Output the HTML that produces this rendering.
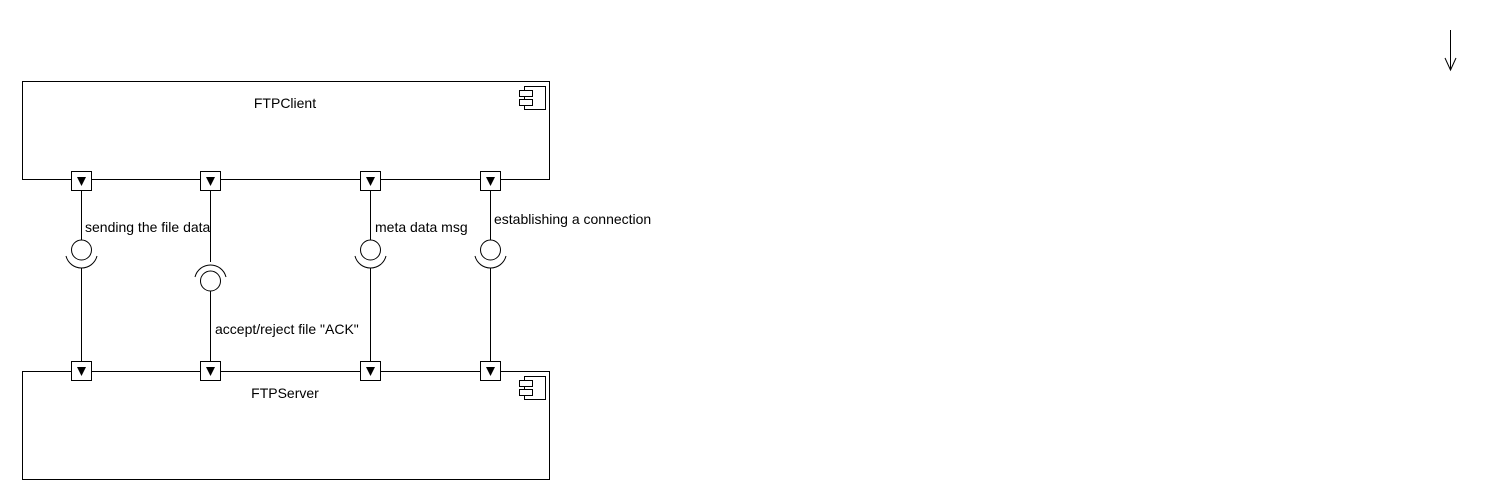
<!DOCTYPE html>
<html><head><meta charset="utf-8"><style>
html,body{margin:0;padding:0;background:#fff;width:1490px;height:500px;overflow:hidden}
text{font-family:"Liberation Sans",sans-serif;font-size:14px;fill:#000}
</style></head><body>
<svg width="1490" height="500" viewBox="0 0 1490 500" xmlns="http://www.w3.org/2000/svg">
<g fill="none" stroke="#000" stroke-width="1">
<rect x="22.5" y="81.5" width="527" height="98"/>
<rect x="22.5" y="371.5" width="527" height="108"/>
<rect x="524.5" y="86.5" width="21" height="23" fill="#fff"/>
<rect x="519.5" y="90.5" width="13" height="6" fill="#fff"/>
<rect x="519.5" y="99.5" width="13" height="6" fill="#fff"/>
<rect x="524.5" y="376.5" width="21" height="23" fill="#fff"/>
<rect x="519.5" y="380.5" width="13" height="6" fill="#fff"/>
<rect x="519.5" y="389.5" width="13" height="6" fill="#fff"/>
<line x1="81.5" y1="190" x2="81.5" y2="240"/>
<circle cx="81.5" cy="250" r="10"/>
<path d="M66 256 A16 16 0 0 0 97 256"/>
<line x1="81.5" y1="268" x2="81.5" y2="362"/>
<line x1="210.5" y1="190" x2="210.5" y2="262"/>
<path d="M195 277 A16 16 0 0 1 226 277"/>
<circle cx="210.5" cy="281" r="10"/>
<line x1="210.5" y1="291" x2="210.5" y2="362"/>
<line x1="370.5" y1="190" x2="370.5" y2="240"/>
<circle cx="370.5" cy="250" r="10"/>
<path d="M355 256 A16 16 0 0 0 386 256"/>
<line x1="370.5" y1="268" x2="370.5" y2="362"/>
<line x1="490.5" y1="190" x2="490.5" y2="240"/>
<circle cx="490.5" cy="250" r="10"/>
<path d="M475 256 A16 16 0 0 0 506 256"/>
<line x1="490.5" y1="268" x2="490.5" y2="362"/>
<line x1="1450.5" y1="30" x2="1450.5" y2="70"/>
<path d="M1445 58 L1450.5 70 L1456 58"/>
</g>
<g fill="#fff" stroke="#000">
<rect x="71.5" y="171.5" width="20" height="19"/>
<rect x="200.5" y="171.5" width="20" height="19"/>
<rect x="360.5" y="171.5" width="20" height="19"/>
<rect x="480.5" y="171.5" width="20" height="19"/>
<rect x="71.5" y="361.5" width="20" height="19"/>
<rect x="200.5" y="361.5" width="20" height="19"/>
<rect x="360.5" y="361.5" width="20" height="19"/>
<rect x="480.5" y="361.5" width="20" height="19"/>
</g>
<g fill="#000">
<path d="M77 177 L86 177 L81.5 186 Z"/>
<path d="M206 177 L215 177 L210.5 186 Z"/>
<path d="M366 177 L375 177 L370.5 186 Z"/>
<path d="M486 177 L495 177 L490.5 186 Z"/>
<path d="M77 367 L86 367 L81.5 376 Z"/>
<path d="M206 367 L215 367 L210.5 376 Z"/>
<path d="M366 367 L375 367 L370.5 376 Z"/>
<path d="M486 367 L495 367 L490.5 376 Z"/>
</g>
<text x="285" y="108" text-anchor="middle">FTPClient</text>
<text x="285" y="398" text-anchor="middle">FTPServer</text>
<text x="85" y="232">sending the file data</text>
<text x="215" y="334">accept/reject file "ACK"</text>
<text x="375" y="232">meta data msg</text>
<text x="494" y="224">establishing a connection</text>
</svg>
</body></html>
